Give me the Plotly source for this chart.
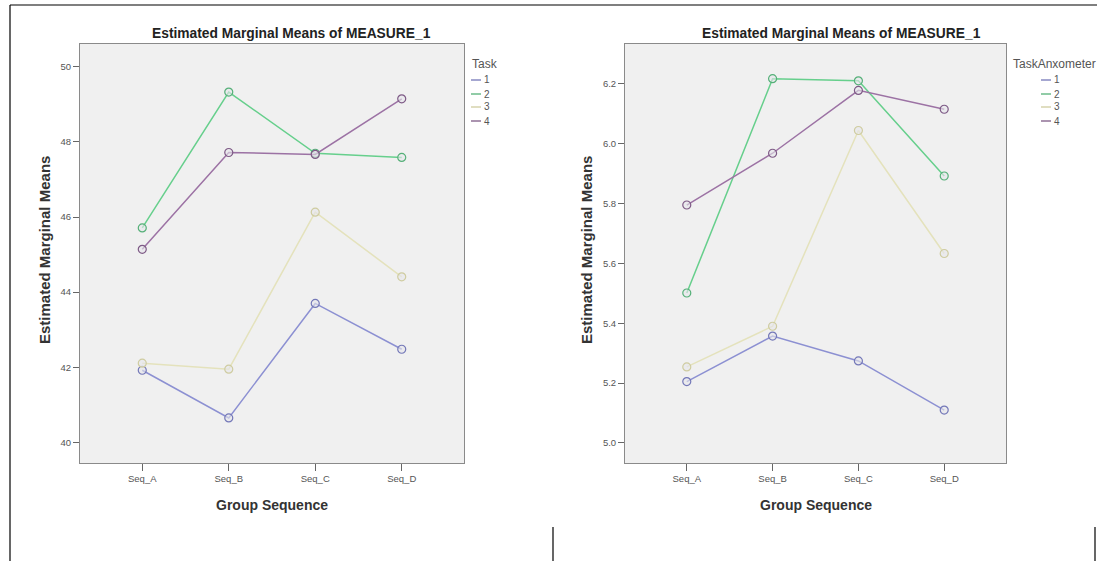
import plotly.graph_objects as go

# ---- data ---------------------------------------------------------------
groups = ["Seq_A", "Seq_B", "Seq_C", "Seq_D"]
levels = ["1", "2", "3", "4"]

# Task (left panel)
task_1 = [41.92, 40.65, 43.70, 42.48]
task_2 = [45.71, 49.33, 47.70, 47.59]
task_3 = [42.11, 41.95, 46.13, 44.41]
task_4 = [45.14, 47.72, 47.67, 49.15]

# TaskAnxometer (right panel)
anx_1 = [5.205, 5.357, 5.274, 5.110]
anx_2 = [5.501, 6.217, 6.210, 5.892]
anx_3 = [5.254, 5.390, 6.044, 5.633]
anx_4 = [5.795, 5.968, 6.178, 6.115]

left_ticks = [40, 42, 44, 46, 48, 50]
right_ticks = [5.0, 5.2, 5.4, 5.6, 5.8, 6.0, 6.2]

colors = ["#8c90d2", "#66cf8c", "#e4e2bc", "#9c72a4"]
edge = ["#7478b8", "#55b078", "#cfcca0", "#7e5a86"]

W, H = 1102, 561
FONT = "Liberation Sans, Arial, sans-serif"


def px(x):
    return x / W


def py(y):
    return 1 - y / H


fig = go.Figure()

panels = [
    ("x", "y", [task_1, task_2, task_3, task_4]),
    ("x2", "y2", [anx_1, anx_2, anx_3, anx_4]),
]
for xa, ya, series in panels:
    for i, vals in enumerate(series):
        fig.add_trace(go.Scatter(
            x=groups, y=vals, xaxis=xa, yaxis=ya, mode="lines+markers",
            name=levels[i], showlegend=False,
            line=dict(color=colors[i], width=1.5),
            marker=dict(symbol="circle", size=8, color="rgba(230,230,235,0.6)",
                        line=dict(color=edge[i], width=1.2)),
        ))

axis_common = dict(
    showgrid=False, zeroline=False, showline=True, mirror=True,
    linecolor="#8a8a8a", linewidth=1, ticks="outside",
    tickcolor="#666", tickfont=dict(family=FONT, size=9.5, color="#555"),
)

# plot areas in pixels
L = dict(x0=80, x1=464)
R = dict(x0=625, x1=1006)
top, bottom = 44, 463

fig.update_layout(
    width=W, height=H, autosize=False,
    margin=dict(l=0, r=0, t=0, b=0),
    paper_bgcolor="white", plot_bgcolor="#f0f0f0",
    showlegend=False,
    xaxis=dict(domain=[px(L["x0"]), px(L["x1"])], anchor="y",
               type="category", categoryorder="array", categoryarray=groups,
               range=[-0.72, 3.72], ticklen=7, **axis_common),
    yaxis=dict(domain=[py(bottom), py(top)], anchor="x",
               range=[39.45, 50.61], tickvals=left_ticks, ticklen=6,
               **axis_common),
    xaxis2=dict(domain=[px(R["x0"]), px(R["x1"])], anchor="y2",
                type="category", categoryorder="array", categoryarray=groups,
                range=[-0.72, 3.72], ticklen=7, **axis_common),
    yaxis2=dict(domain=[py(bottom), py(top)], anchor="x2",
                range=[4.933, 6.333], tickvals=right_ticks, tickformat=".1f",
                ticklen=6, **axis_common),
)

# second panel background
fig.add_shape(type="rect", xref="paper", yref="paper", layer="below",
              x0=px(R["x0"]), x1=px(R["x1"]), y0=py(bottom), y1=py(top),
              fillcolor="#f0f0f0", line=dict(width=0))


def note(text, x, y, size, color="#333", xanchor="center", angle=0):
    return dict(text=text, x=px(x), y=py(y), xref="paper", yref="paper",
                showarrow=False, xanchor=xanchor, yanchor="middle",
                textangle=angle, font=dict(family=FONT, size=size, color=color))


annotations = []
title = "Estimated Marginal Means of MEASURE_1"
for cx, tx in [((L["x0"] + L["x1"]) / 2, 291), ((R["x0"] + R["x1"]) / 2, 841)]:
    annotations.append(note(f"<b>{title}</b>", tx, 33, 13.8, "#222"))
    annotations.append(note("<b>Group Sequence</b>", cx, 505, 14))
for ax in [45, 587]:
    annotations.append(note("<b>Estimated Marginal Means</b>", ax, 250, 15,
                            angle=-90))

# legends
legend_rows = [80, 94, 107, 121]
for title_txt, tx, lx in [("Task", 470, 471), ("TaskAnxometer", 1011, 1041)]:
    annotations.append(note(title_txt, tx, 64, 12, "#555", xanchor="left"))
    for i, lev in enumerate(levels):
        fig.add_shape(type="line", xref="paper", yref="paper",
                      x0=px(lx), x1=px(lx + 10), y0=py(legend_rows[i]),
                      y1=py(legend_rows[i]),
                      line=dict(color=edge[i], width=1.3))
        annotations.append(note(lev, lx + 11, legend_rows[i], 10, "#555",
                                xanchor="left"))

fig.update_layout(annotations=annotations)

# page frame lines
frame = [
    (10, 5, 1097, 5),
    (10, 5, 10, 561),
    (553, 527, 553, 561),
    (1095, 527, 1095, 561),
]
for x0, y0, x1, y1 in frame:
    fig.add_shape(type="line", xref="paper", yref="paper",
                  x0=px(x0), y0=py(y0), x1=px(x1), y1=py(y1),
                  line=dict(color="black", width=1.2))

fig.write_html("out.html")
